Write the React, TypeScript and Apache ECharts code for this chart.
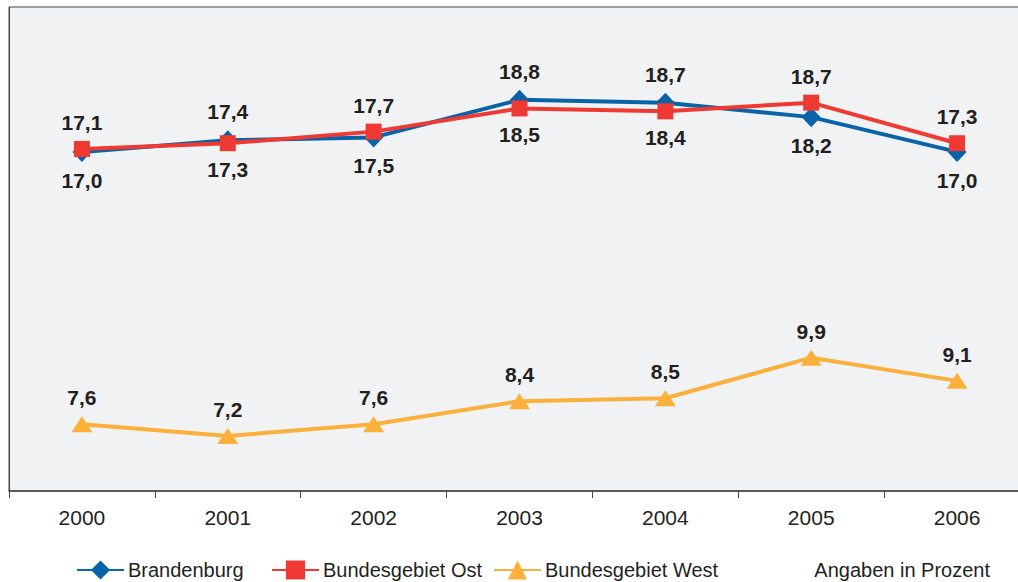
import React, { useEffect, useRef } from "react";
import * as echarts from "echarts";

const years = ["2000", "2001", "2002", "2003", "2004", "2005", "2006"];
const brandenburg = [17.0, 17.4, 17.5, 18.8, 18.7, 18.2, 17.0];
const ost = [17.1, 17.3, 17.7, 18.5, 18.4, 18.7, 17.3];
const west = [7.6, 7.2, 7.6, 8.4, 8.5, 9.9, 9.1];

const brandPos = ["bottom", "top", "bottom", "top", "top", "bottom", "bottom"];
const ostPos = ["top", "bottom", "top", "bottom", "bottom", "top", "top"];

const FONT = "'Liberation Sans', Arial, sans-serif";

const fmt = (v: number) => v.toFixed(1).replace(".", ",");

export default function App() {
  const ref = useRef<HTMLDivElement>(null);
  useEffect(() => {
    if (!ref.current) return;
    const chart = echarts.init(ref.current, null, { renderer: "svg" });
    const labelBase = {
      show: true,
      fontFamily: FONT,
      fontSize: 21,
      fontWeight: "bold",
      color: "#231f20",
      distance: 8,
      formatter: (p: any) => fmt(p.value),
    };
    const mk = (vals: number[], pos: string[] | null) =>
      vals.map((v, i) => ({
        value: v,
        label: { position: pos ? pos[i] : "top" },
      }));
    const legendText = { fontFamily: FONT, fontSize: 20, color: "#231f20", padding: [0, 0, 0, -1] };
    const legendCommon = {
      bottom: -3,
      itemWidth: 47,
      itemHeight: 24,
      textStyle: legendText,
    };
    chart.setOption({
      animation: false,
      grid: {
        left: 9,
        width: 1021,
        top: 7,
        bottom: 91,
        outerBoundsMode: "none",
        containLabel: false,
        show: true,
        backgroundColor: "#f1f2f4",
        borderColor: "#444",
        borderWidth: 1,
      },
      legend: [
        { ...legendCommon, left: 71, data: ["Brandenburg"] },
        { ...legendCommon, left: 266, data: ["Bundesgebiet Ost"] },
        { ...legendCommon, left: 488, data: ["Bundesgebiet West"] },
      ],
      graphic: [
        {
          type: "text",
          right: 28,
          bottom: 2,
          style: {
            text: "Angaben in Prozent",
            font: `20px ${FONT}`,
            fill: "#231f20",
          },
        },
      ],
      xAxis: {
        type: "category",
        data: years,
        boundaryGap: true,
        axisLine: { lineStyle: { color: "#444", width: 1.5 } },
        axisTick: { show: true, length: 7, lineStyle: { color: "#444" } },
        axisLabel: { fontFamily: FONT, fontSize: 21, color: "#231f20", margin: 16 },
      },
      yAxis: {
        type: "value",
        min: 5.3,
        max: 22,
        axisLine: { show: true, lineStyle: { color: "#444" } },
        axisLabel: { show: false },
        axisTick: { show: false },
        splitLine: { show: false },
      },
      series: [
        {
          name: "Bundesgebiet West",
          type: "line",
          data: mk(west, null),
          symbol: "triangle",
          symbolSize: [21, 16],
          itemStyle: { color: "#fbb03b" },
          lineStyle: { width: 4, color: "#fbb03b" },
          label: labelBase,
          z: 2,
        },
        {
          name: "Brandenburg",
          type: "line",
          data: mk(brandenburg, brandPos),
          symbol: "diamond",
          symbolSize: [19, 20],
          itemStyle: { color: "#0863a8" },
          lineStyle: { width: 4, color: "#0863a8" },
          label: labelBase,
          z: 3,
        },
        {
          name: "Bundesgebiet Ost",
          type: "line",
          data: mk(ost, ostPos),
          symbol: "rect",
          symbolSize: 16,
          itemStyle: { color: "#ee3a32" },
          lineStyle: { width: 4, color: "#ee3a32" },
          label: labelBase,
          z: 4,
        },
      ],
    });
    return () => chart.dispose();
  }, []);
  return (
    <div
      ref={ref}
      style={{ position: "absolute", left: 0, top: 0, width: 1018, height: 582 }}
    />
  );
}
